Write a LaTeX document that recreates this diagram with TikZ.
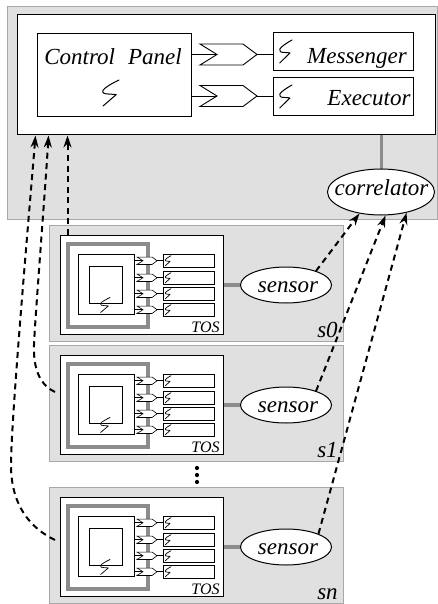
\documentclass[tikz,border=0pt]{standalone}
\usepackage{fontspec}
\setmainfont{Liberation Serif}
\usetikzlibrary{shapes.geometric,arrows.meta,calc}
\definecolor{panelfill}{gray}{0.88}
\definecolor{panelline}{gray}{0.66}
\definecolor{wire}{gray}{0.55}
\tikzset{
  % hand-drawn "S" mark of a component
  squig/.pic={\draw[line width=1pt,line join=round,line cap=round]
      (0.5,-0.5) .. controls (0.0,-0.34) and (-0.36,-0.2) .. (-0.44,-0.1)
      .. controls (-0.52,0.0) and (-0.35,0.04) .. (-0.1,0.04)
      -- (0.34,0.06) -- (-0.44,0.5);},
  smallsquig/.pic={\draw[line width=0.7pt,line join=round,line cap=round]
      (0.5,-0.5) .. controls (0.0,-0.34) and (-0.36,-0.2) .. (-0.44,-0.1)
      .. controls (-0.52,0.0) and (-0.35,0.04) .. (-0.1,0.04)
      -- (0.34,0.06) -- (-0.44,0.5);},
  % port connector with a notched back and a pointed front
  plug/.pic={\draw[line width=0.9pt,fill=white,line join=miter]
      (0,-1) -- (0.754,-1) -- (1,0) -- (0.754,1) -- (0,1) -- (0.298,0) -- cycle;
      \coordinate (-vin) at (0.298,0); \coordinate (-tip) at (1,0);},
  smallplug/.pic={\draw[line width=0.6pt,fill=white,line join=miter]
      (0,-1) -- (0.754,-1) -- (1,0) -- (0.754,1) -- (0,1) -- (0.298,0) -- cycle;
      \coordinate (-vin) at (0.298,0); \coordinate (-tip) at (1,0);},
  lbl/.style={font=\fontsize{23}{26}\selectfont\itshape, inner sep=0pt, anchor=base},
  toslbl/.style={font=\fontsize{16}{18}\selectfont\itshape, inner sep=0pt, anchor=base},
  box/.style={draw, line width=1pt, fill=white, inner sep=0pt},
  thinbox/.style={draw, line width=0.8pt, fill=white, inner sep=0pt},
  panel/.style={draw=panelline, line width=1pt, fill=panelfill, inner sep=0pt},
  oval/.style={ellipse, draw, line width=1pt, fill=white, inner sep=0pt},
  link/.style={line width=0.9pt},
  thickwire/.style={draw=wire, line width=3.5pt},
  dar/.style={line width=2pt, dash pattern=on 6pt off 4.5pt,
      -{Stealth[length=12pt,width=8pt]}},
}
\begin{document}
\begin{tikzpicture}[x=1pt,y=-1pt]
\useasboundingbox (0,0) rectangle (438,604);

% ---------- control station ----------
\node[panel, minimum width=430.5pt, minimum height=212pt] (station) at (222.25,113) {};
\node[box, minimum width=418pt, minimum height=120pt] (main) at (226,75) {};

\node[box, minimum width=154pt, minimum height=83pt] (cp) at (114,75.5) {};
\node[lbl] (cptxt) at (113,65) {Control\hspace{13pt}Panel};
\pic[xscale=17,yscale=26] at (110.5,93) {squig};

\node[box, minimum width=140pt, minimum height=38pt] (msg) at (343,52) {};
\node[lbl] (msgtxt) at (357,64) {Messenger};
\pic[xscale=13,yscale=23] at (285.5,51.5) {squig};

\node[box, minimum width=140pt, minimum height=38pt] (exe) at (343,97) {};
\node[lbl] (exetxt) at (369,106) {Executor};
\pic[xscale=13,yscale=23] at (285.5,96.5) {squig};

\pic[xscale=57,yscale=10.5] (pa) at (200,54.5) {plug};
\pic[xscale=57,yscale=10.5] (pb) at (200,96) {plug};
\draw[link] (cp.east |- pa-vin) -- (pa-vin);
\draw[link] (pa-tip) -- (msg.west |- pa-tip);
\draw[link] (cp.east |- pb-vin) -- (pb-vin);
\draw[link] (pb-tip) -- (exe.west |- pb-tip);

\draw[draw=wire, line width=3pt] (main.south -| 381,0) -- (381,170);
\node[oval, minimum width=107pt, minimum height=46pt] (corr) at (381,192) {};
\node[lbl] (corrtxt) at (381.5,195.5) {correlator};

% ---------- sensor stations ----------
\foreach \T/\lab/\id in {225/s0/0, 345/s1/1, 487/sn/n}{
  \node[panel, minimum width=294pt, minimum height=116pt] (st\id) at (196,\T+58) {};
  \node[box, minimum width=163pt, minimum height=99pt] (tos\id) at (141.5,\T+59.5) {};
  \node[draw=wire, line width=3.5pt, inner sep=0pt,
        minimum width=80pt, minimum height=83pt] (ring\id) at (108,\T+60.5) {};
  \node[thinbox, minimum width=56pt, minimum height=60pt] (core\id) at (106,\T+59) {};
  \node[thinbox, minimum width=33pt, minimum height=37pt] (inner\id) at (105.5,\T+59.5) {};
  \pic[xscale=10,yscale=15] at (105,\T+80) {smallsquig};
  \foreach \r in {29,46,62,78}{
    \node[thinbox, minimum width=51pt, minimum height=13.5pt]
        (row\id\r) at (188.5,\T+\r+6.75) {};
    \pic[xscale=6,yscale=10] at (168,\T+\r+6.75) {smallsquig};
    \pic[xscale=20,yscale=3.7] (pl\id\r) at (137,\T+\r+6.75) {smallplug};
    \draw[line width=0.6pt] (core\id.east |- pl\id\r-vin) -- (pl\id\r-vin);
    \draw[line width=0.6pt] (pl\id\r-tip) -- (row\id\r.west |- pl\id\r-tip);
  }
  \node[toslbl] (toslbl\id) at (205.5,\T+107) {TOS};
  \node[oval, minimum width=91pt, minimum height=36pt] (sen\id) at (286,\T+60) {};
  \node[lbl] (sentxt\id) at (288,\T+67) {sensor};
  \draw[thickwire] (tos\id.east |- sen\id.west) -- (sen\id.west);
  \node[lbl] (name\id) at (327.5,\T+112) {\lab};
}

% ellipsis between stations
\foreach \y in {468,475,482} \fill (197,\y) circle (2.1pt);

% ---------- message flows ----------
\coordinate (l1) at (55,392);
\coordinate (ln) at (55,540);
\draw[dar] ($(tos0.north west)+(8,0)$) -- ($(main.south west)+(51,0)$);
\draw[dar] (l1) .. controls (42,386) and (33,372) .. (34,345)
           .. controls (35,318) and (46,180) .. ($(main.south west)+(32,0)$);
\draw[dar] (ln) .. controls (30,528) and (11,505) .. (11,465)
           .. controls (11,420) and (29,215) .. ($(main.south west)+(19,0)$);

\draw[dar] (sen0.25) -- (corr.225);
\draw[dar] (sen1.25) -- (corr.281);
\draw[dar] (senn.22) -- (corr.321);
\end{tikzpicture}
\end{document}
